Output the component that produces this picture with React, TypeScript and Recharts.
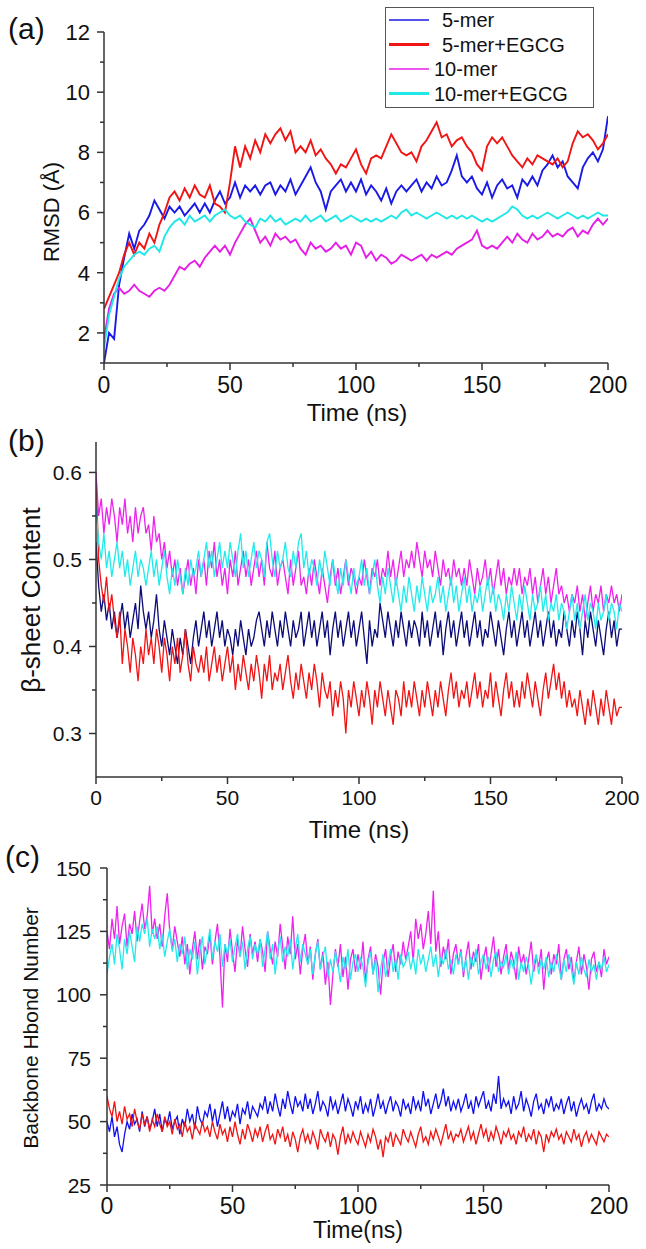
import React from 'react';
import { LineChart, Line, XAxis, YAxis, Legend } from 'recharts';

const FONT = '"Liberation Sans", Arial, Helvetica, sans-serif';
const AXIS = '#333333';
const TXT = '#111111';

const seriesNames = ['5-mer', '5-mer+EGCG', '10-mer', '10-mer+EGCG'];
const colorsA = ['#1a1ae6', '#f01414', '#e61ee6', '#1ee8e8'];
const colorsB = ['#0c0c78', '#f01414', '#ee22ee', '#22eaea'];
const colorsC = ['#1010ee', '#f01414', '#ee22ee', '#22eaea'];
const legendLineWidths = [1.5, 3, 1.5, 3.2];

const timeTicks = [0, 25, 50, 75, 100, 125, 150, 175, 200];
const rmsdTicks = [1, 2, 3, 4, 5, 6, 7, 8, 9, 10, 11, 12];
const sheetTicks = [0.3, 0.35, 0.4, 0.45, 0.5, 0.55, 0.6];
const hbondTicks = [25, 37.5, 50, 62.5, 75, 87.5, 100, 112.5, 125, 137.5, 150];

// (a) RMSD, sampled every 2 ns
const rmsd5 = [
  1.0, 2.0, 1.8, 3.6, 4.5, 5.3, 4.8, 5.4, 5.6, 5.9,
  6.4, 6.1, 5.8, 6.2, 6.0, 6.2, 5.9, 6.1, 6.3, 6.0,
  6.3, 6.0, 6.4, 6.7, 6.3, 6.5, 7.0, 6.5, 6.9, 6.7,
  6.9, 6.6, 6.9, 7.0, 6.6, 6.9, 6.7, 7.1, 6.6, 6.9,
  7.2, 7.5, 7.0, 6.7, 6.1, 6.7, 6.9, 7.1, 6.7, 7.0,
  6.7, 7.1, 6.6, 6.9, 6.7, 6.4, 6.8, 6.3, 6.7, 6.9,
  6.7, 6.9, 7.1, 6.7, 7.0, 6.8, 7.2, 6.9, 7.0, 7.4,
  7.9, 7.2, 7.0, 7.2, 6.8, 6.6, 7.0, 6.5, 6.9, 7.1,
  6.8, 6.9, 6.5, 7.1, 6.9, 7.2, 6.9, 7.4, 7.6, 7.9,
  7.5, 7.7, 7.2, 7.0, 6.8, 7.5, 7.8, 8.0, 7.7, 8.1,
  9.2,
];
const rmsd5E = [
  2.8, 3.2, 3.6, 4.0, 4.6, 5.0, 4.6, 5.0, 4.8, 5.3,
  5.0, 5.6, 6.0, 6.5, 6.7, 6.4, 6.8, 6.5, 6.9, 6.6,
  6.5, 6.9, 6.3, 6.2, 6.0, 7.0, 8.2, 7.5, 8.2, 7.8,
  8.4, 8.0, 8.6, 8.3, 8.6, 8.8, 8.4, 8.7, 8.0, 8.2,
  8.0, 8.4, 7.9, 8.1, 7.8, 7.6, 7.3, 7.6, 7.5, 7.8,
  8.1, 7.6, 7.3, 7.8, 7.9, 7.8, 8.2, 8.6, 8.3, 8.0,
  7.9, 8.0, 7.7, 8.2, 8.4, 8.7, 9.0, 8.5, 8.6, 8.2,
  8.4, 8.5, 8.2, 8.0, 7.6, 7.4, 8.2, 8.5, 8.3, 8.5,
  8.2, 7.9, 7.7, 7.5, 7.8, 7.6, 7.9, 7.8, 7.7, 7.6,
  7.8, 7.5, 7.7, 8.3, 8.7, 8.5, 8.6, 8.4, 8.1, 8.3,
  8.6,
];
const rmsd10 = [
  1.8, 2.8, 3.3, 3.5, 3.3, 3.4, 3.6, 3.4, 3.3, 3.2,
  3.4, 3.5, 3.4, 3.6, 3.9, 4.2, 4.1, 4.3, 4.4, 4.2,
  4.5, 4.7, 4.9, 4.7, 4.9, 4.6, 5.0, 5.3, 5.6, 5.8,
  5.4, 5.0, 5.2, 4.9, 5.3, 5.1, 5.2, 5.0, 5.1, 4.8,
  4.6, 5.0, 4.8, 4.9, 4.7, 4.8, 5.0, 4.8, 4.9, 4.6,
  5.0, 4.9, 4.5, 4.7, 4.4, 4.6, 4.5, 4.3, 4.4, 4.6,
  4.5, 4.4, 4.5, 4.6, 4.4, 4.6, 4.5, 4.6, 4.7, 4.6,
  4.8, 4.9, 5.0, 5.1, 5.4, 4.9, 4.8, 4.9, 4.8, 5.0,
  5.2, 5.0, 5.3, 5.1, 5.0, 5.3, 5.1, 5.2, 5.4, 5.2,
  5.3, 5.2, 5.4, 5.5, 5.2, 5.4, 5.3, 5.6, 5.8, 5.6,
  5.8,
];
const rmsd10E = [
  1.5, 2.6, 3.2, 3.8, 4.2, 4.4, 4.6, 4.7, 4.6, 4.8,
  4.9, 4.7, 5.2, 5.5, 5.7, 5.8, 5.6, 5.9, 5.7, 5.8,
  5.9, 5.7, 5.9, 6.0, 6.1, 5.9, 5.8, 5.9, 5.7, 5.6,
  5.5, 5.8, 5.7, 5.9, 5.7, 5.8, 5.6, 5.7, 5.8, 5.7,
  5.9, 5.7, 5.8, 5.9, 5.7, 5.8, 5.9, 5.7, 5.8, 5.9,
  5.8, 5.7, 5.8, 5.7, 5.8, 5.7, 5.8, 5.9, 5.8, 6.0,
  6.1, 5.9, 6.0, 5.9, 5.8, 5.9, 6.0, 5.9, 5.8, 5.9,
  5.8, 5.9, 5.8, 5.9, 5.8, 5.7, 5.8, 5.7, 5.8, 5.9,
  6.0, 6.2, 6.1, 5.9, 5.8, 5.9, 5.8, 5.9, 6.0, 5.9,
  5.8, 5.9, 6.0, 5.9, 5.8, 5.9, 5.8, 5.9, 6.0, 5.9,
  5.9,
];

// (b) beta-sheet content, sampled every 1 ns
const sheet5 = [
  .52,.47,.44,.46,.43,.45,.42,.44,.41,.43,.45,.42,.44,.41,.43,.45,.42,.47,.44,.42,
  .44,.41,.43,.46,.42,.40,.43,.41,.39,.42,.40,.38,.41,.39,.42,.40,.38,.41,.43,.40,
  .42,.44,.41,.43,.40,.42,.44,.41,.43,.40,.42,.41,.39,.42,.40,.43,.41,.39,.42,.40,
  .41,.43,.44,.42,.40,.43,.41,.44,.42,.40,.43,.41,.44,.42,.40,.43,.41,.42,.44,.40,
  .42,.44,.41,.43,.40,.42,.44,.41,.43,.39,.42,.44,.41,.43,.40,.42,.44,.41,.43,.40,
  .42,.44,.41,.38,.43,.40,.42,.41,.45,.43,.41,.44,.42,.40,.43,.41,.44,.42,.40,.43,
  .41,.43,.42,.40,.44,.41,.43,.40,.42,.44,.41,.43,.39,.42,.44,.41,.43,.40,.42,.44,
  .41,.43,.40,.42,.44,.41,.43,.40,.42,.41,.44,.42,.40,.43,.41,.39,.42,.44,.41,.43,
  .40,.42,.44,.41,.43,.40,.42,.44,.41,.43,.40,.42,.44,.41,.43,.40,.42,.41,.44,.42,
  .40,.43,.41,.44,.42,.39,.43,.41,.44,.42,.40,.43,.41,.39,.42,.44,.41,.43,.40,.42,
  .42,
];
const sheet5E = [
  .60,.50,.47,.45,.48,.44,.46,.43,.41,.44,.38,.42,.40,.37,.41,.39,.36,.40,.38,.42,
  .39,.41,.38,.42,.40,.37,.41,.39,.36,.40,.38,.41,.37,.39,.42,.38,.36,.40,.38,.37,
  .39,.37,.40,.36,.38,.40,.37,.39,.36,.38,.40,.37,.39,.35,.38,.36,.39,.37,.35,.38,
  .36,.39,.37,.34,.38,.36,.39,.35,.37,.36,.38,.35,.37,.39,.36,.34,.37,.35,.38,.36,
  .34,.37,.35,.38,.36,.33,.37,.35,.34,.36,.32,.35,.33,.36,.34,.30,.35,.33,.36,.34,
  .32,.35,.33,.36,.34,.31,.35,.33,.36,.34,.32,.35,.33,.31,.35,.34,.32,.36,.33,.35,
  .33,.36,.34,.32,.35,.33,.36,.34,.32,.35,.33,.36,.34,.32,.35,.37,.34,.36,.33,.35,
  .34,.36,.33,.35,.37,.34,.36,.33,.35,.34,.37,.33,.36,.34,.32,.35,.37,.34,.36,.33,
  .35,.33,.36,.34,.37,.35,.33,.36,.34,.32,.35,.37,.34,.36,.38,.35,.37,.34,.36,.33,
  .35,.33,.34,.32,.35,.33,.31,.34,.32,.35,.33,.31,.34,.32,.35,.33,.31,.34,.32,.33,
  .33,
];
const sheet10 = [
  .60,.55,.57,.53,.56,.54,.57,.55,.52,.56,.54,.57,.53,.55,.52,.56,.53,.55,.56,.53,
  .54,.51,.55,.52,.53,.50,.52,.49,.51,.48,.50,.47,.49,.46,.48,.50,.47,.49,.46,.50,
  .48,.50,.47,.51,.49,.52,.48,.50,.47,.49,.46,.50,.48,.51,.47,.49,.51,.48,.50,.47,
  .49,.51,.48,.50,.47,.52,.49,.48,.51,.47,.49,.50,.48,.46,.50,.47,.49,.51,.47,.48,
  .46,.49,.47,.50,.48,.46,.49,.47,.45,.48,.50,.47,.49,.46,.48,.50,.47,.49,.48,.46,
  .48,.47,.50,.48,.46,.49,.48,.50,.47,.49,.48,.51,.48,.50,.47,.49,.51,.48,.50,.49,
  .51,.49,.52,.50,.48,.51,.49,.50,.48,.51,.49,.47,.50,.48,.49,.47,.50,.48,.49,.47,
  .49,.47,.50,.48,.46,.49,.47,.48,.50,.47,.49,.46,.48,.50,.47,.49,.46,.48,.47,.49,
  .47,.49,.46,.48,.47,.49,.46,.48,.45,.47,.49,.46,.48,.45,.47,.49,.46,.47,.45,.46,
  .44,.46,.45,.47,.44,.46,.43,.45,.47,.44,.46,.45,.47,.44,.46,.45,.47,.45,.46,.44,
  .46,
];
const sheet10E = [
  .56,.52,.50,.53,.49,.51,.48,.50,.52,.49,.51,.48,.50,.47,.49,.51,.48,.50,.49,.47,
  .49,.51,.48,.50,.47,.49,.51,.48,.46,.49,.47,.50,.48,.46,.49,.47,.50,.48,.49,.51,
  .48,.50,.52,.49,.51,.48,.50,.52,.49,.51,.49,.52,.50,.48,.51,.53,.49,.51,.48,.50,
  .52,.49,.51,.50,.48,.52,.53,.50,.48,.51,.49,.50,.52,.49,.48,.51,.49,.52,.53,.49,
  .51,.48,.50,.49,.47,.50,.48,.51,.49,.47,.50,.48,.46,.49,.47,.50,.48,.46,.49,.47,
  .48,.50,.47,.49,.46,.48,.50,.47,.45,.48,.46,.49,.47,.45,.48,.46,.44,.47,.45,.48,
  .46,.44,.47,.45,.48,.46,.44,.47,.45,.46,.48,.45,.47,.44,.46,.48,.45,.47,.44,.46,
  .48,.45,.47,.44,.46,.45,.47,.44,.46,.48,.45,.47,.44,.46,.45,.43,.46,.44,.47,.45,
  .43,.46,.44,.47,.45,.43,.46,.44,.45,.47,.44,.46,.43,.45,.44,.46,.43,.45,.44,.42,
  .44,.46,.43,.45,.42,.44,.46,.43,.45,.44,.42,.45,.43,.44,.46,.43,.45,.44,.42,.45,
  .44,
];

// (c) backbone H-bond number, sampled every 1 ns
const hbond5 = [
  50,46,52,44,48,41,38,45,50,47,53,49,51,46,54,48,52,47,50,55,
  48,53,46,51,49,54,47,50,52,45,51,48,55,50,53,47,56,51,49,54,
  52,57,50,55,48,53,58,51,56,50,54,52,57,49,55,53,58,51,56,54,
  52,57,55,60,53,58,54,61,56,52,59,55,62,57,53,60,56,58,54,61,
  55,59,53,57,62,54,58,56,52,60,55,58,53,57,61,54,59,56,52,58,
  55,60,53,57,54,59,52,56,61,55,58,53,57,60,54,58,56,52,59,55,
  57,53,60,55,58,54,62,56,59,53,57,61,55,58,63,56,60,54,58,55,
  59,54,57,61,55,58,53,60,56,59,62,55,58,54,61,57,68,55,59,56,
  58,53,60,55,57,62,54,59,56,52,58,61,55,57,53,59,56,60,54,57,
  55,59,53,57,60,54,58,52,56,59,55,57,53,58,61,54,57,55,59,56,
  55,
];
const hbond5E = [
  60,55,52,58,50,54,49,56,51,53,48,55,50,47,53,49,52,46,51,48,
  53,49,46,52,48,50,45,51,47,49,44,50,46,48,43,49,47,45,50,46,
  48,44,50,46,43,49,45,47,42,48,44,50,45,41,47,43,49,46,42,47,
  44,48,42,46,49,43,45,41,47,44,48,42,45,40,46,43,38,44,47,42,
  45,41,46,43,39,47,44,42,46,40,45,43,37,44,48,41,45,42,46,43,
  41,46,43,40,45,42,47,44,39,43,36,44,42,46,40,45,43,41,47,44,
  42,46,43,40,45,48,42,44,41,46,43,47,44,41,45,49,43,46,42,45,
  44,47,42,45,48,43,46,41,45,49,44,47,42,46,43,48,45,41,46,44,
  47,43,45,41,46,44,48,42,45,43,47,41,46,44,38,45,42,46,44,47,
  43,45,41,46,44,42,47,43,45,40,44,46,42,45,43,41,46,44,42,45,
  44,
];
const hbond10 = [
  125,118,130,122,135,120,127,132,119,128,124,133,121,129,136,126,131,143,124,130,
  122,128,119,131,140,125,118,127,121,115,123,112,120,108,118,125,114,122,110,119,
  116,124,112,121,128,115,95,120,113,126,117,109,122,115,127,118,111,124,116,121,
  113,122,117,109,125,118,112,121,115,128,119,110,123,116,131,114,120,108,118,124,
  112,119,106,116,122,110,117,104,113,96,108,118,111,120,107,115,102,114,118,109,
  116,110,121,105,114,119,108,116,111,100,113,118,107,115,120,109,117,112,121,114,
  119,125,113,130,122,128,118,124,133,120,141,117,125,111,119,114,122,108,116,120,
  112,118,107,115,121,110,117,113,120,106,114,119,109,116,123,111,118,108,115,120,
  110,117,113,106,119,112,116,108,114,121,109,115,111,118,102,113,117,108,116,112,
  120,106,114,118,110,115,105,113,119,108,116,111,102,114,117,109,113,107,118,112,
  115,
];
const hbond10E = [
  108,115,120,112,124,118,110,122,116,125,119,113,127,121,128,124,130,119,126,122,
  127,118,124,115,121,126,117,122,113,120,116,123,110,118,114,121,108,117,123,112,
  119,126,114,121,117,124,111,120,116,122,113,119,124,115,121,110,118,123,114,120,
  116,122,111,118,125,114,120,108,117,123,113,119,115,122,110,118,124,113,120,116,
  112,118,108,116,121,110,115,119,107,114,109,117,112,105,115,110,118,106,113,116,
  109,115,111,103,113,117,108,114,101,110,116,107,112,118,109,114,106,116,111,113,
  117,110,115,108,118,112,116,109,114,119,111,116,107,115,112,118,110,114,108,116,
  112,117,109,114,106,115,111,118,108,113,116,110,115,107,114,117,109,113,111,116,
  108,114,110,117,106,113,109,115,111,104,112,116,108,114,110,115,107,113,109,116,
  111,106,114,109,116,110,104,113,108,115,110,107,114,109,112,106,113,110,115,109,
  112,
];

function buildRows(step: number, series: number[][]) {
  const n = Math.max(...series.map((s) => s.length));
  const rows: any[] = [];
  for (let i = 0; i < n; i++) {
    const row: any = { t: i * step };
    series.forEach((s, k) => {
      row['s' + k] = s[i];
    });
    rows.push(row);
  }
  return rows;
}

const dataA = buildRows(2, [rmsd5, rmsd5E, rmsd10, rmsd10E]);
const dataB = buildRows(1, [sheet5, sheet5E, sheet10, sheet10E]);
const dataC = buildRows(1, [hbond5, hbond5E, hbond10, hbond10E]);

function makeXTick(fs: number, dy: number) {
  return (props: any) => {
    const { x, y, payload } = props;
    const v = payload.value;
    const major = v % 50 === 0;
    return (
      <g>
        <line x1={x} x2={x} y1={y} y2={y + (major ? 7 : 4)} stroke={AXIS} strokeWidth={1.5} />
        {major && (
          <text x={x} y={y + dy} textAnchor="middle" fontSize={fs} fontFamily={FONT} fill={TXT}>
            {v}
          </text>
        )}
      </g>
    );
  };
}

function makeYTick(fs: number, gap: number, isMajor: (v: number) => boolean, fmt: (v: number) => string) {
  return (props: any) => {
    const { x, y, payload } = props;
    const v = payload.value;
    const major = isMajor(v);
    return (
      <g>
        <line x1={x} x2={x - (major ? 7 : 4)} y1={y} y2={y} stroke={AXIS} strokeWidth={1.5} />
        {major && (
          <text x={x - gap} y={y} dy="0.36em" textAnchor="end" fontSize={fs} fontFamily={FONT} fill={TXT}>
            {fmt(v)}
          </text>
        )}
      </g>
    );
  };
}

const LegendBox = (props: any) => {
  const payload = [...(props.payload || [])].sort(
    (a: any, b: any) => seriesNames.indexOf(a.value) - seriesNames.indexOf(b.value)
  );
  return (
    <svg width={206} height={98} style={{ display: 'block' }}>
      {payload.map((entry: any, i: number) => {
        const cy = 12 + i * 24.5;
        const tx = i < 2 ? 56 : 48;
        return (
          <g key={i}>
            <line x1={3} x2={43} y1={cy} y2={cy} stroke={entry.color} strokeWidth={legendLineWidths[i]} />
            <text x={tx} y={cy} dy="0.36em" fontSize={20} fontFamily={FONT} fill={TXT}>
              {entry.value}
            </text>
          </g>
        );
      })}
    </svg>
  );
};

const axisLineStyle = { stroke: AXIS, strokeWidth: 1.5 };

function Panel(props: {
  top: number;
  height: number;
  margin: any;
  data: any[];
  colors: string[];
  sw: number;
  yDomain: [number, number];
  yTicks: number[];
  yTick: any;
  xTick: any;
  legend?: boolean;
}) {
  const { top, height, margin, data, colors, sw, yDomain, yTicks, yTick, xTick, legend } = props;
  return (
    <div style={{ position: 'absolute', left: 0, top, width: 646, height }}>
      <LineChart width={646} height={height} data={data} margin={margin}>
        <XAxis
          type="number"
          dataKey="t"
          domain={[0, 200]}
          ticks={timeTicks}
          interval={0}
          height={30}
          tickSize={0}
          tickMargin={0}
          tickLine={false}
          axisLine={axisLineStyle}
          tick={xTick}
          allowDataOverflow
        />
        <YAxis
          type="number"
          domain={yDomain}
          ticks={yTicks}
          interval={0}
          width={60}
          tickSize={0}
          tickMargin={0}
          tickLine={false}
          axisLine={axisLineStyle}
          tick={yTick}
          allowDataOverflow
        />
        {seriesNames.map((name, k) => (
          <Line
            key={name}
            type="linear"
            dataKey={'s' + k}
            name={name}
            stroke={colors[k]}
            strokeWidth={sw}
            dot={false}
            activeDot={false}
            isAnimationActive={false}
          />
        ))}
        {legend && (
          <Legend
            layout="vertical"
            align="center"
            verticalAlign="middle"
            content={LegendBox}
            wrapperStyle={{
              position: 'absolute',
              left: 385,
              top: 7,
              width: 209,
              height: 101,
              border: '1.5px solid #555',
              boxSizing: 'border-box',
              background: '#fff',
            }}
          />
        )}
      </LineChart>
    </div>
  );
}

export default function App() {
  const t = { fontFamily: FONT, fill: TXT };
  return (
    <div style={{ position: 'absolute', left: 0, top: 0, width: 646, height: 1249, background: '#fff', overflow: 'hidden' }}>
      <Panel
        top={0}
        height={425}
        margin={{ top: 32, right: 38, bottom: 32, left: 44 }}
        data={dataA}
        colors={colorsA}
        sw={1.9}
        yDomain={[1, 12]}
        yTicks={rmsdTicks}
        yTick={makeYTick(22, 14, (v) => v % 2 === 0, (v) => String(v))}
        xTick={makeXTick(23, 30)}
        legend
      />
      <Panel
        top={425}
        height={425}
        margin={{ top: 17, right: 24, bottom: 43, left: 36 }}
        data={dataB}
        colors={colorsB}
        sw={1.3}
        yDomain={[0.25, 0.635]}
        yTicks={sheetTicks}
        yTick={makeYTick(21, 14, (v) => Math.abs(v * 10 - Math.round(v * 10)) < 1e-6, (v) => v.toFixed(1))}
        xTick={makeXTick(21, 28)}
      />
      <Panel
        top={850}
        height={399}
        margin={{ top: 18, right: 37, bottom: 34, left: 47 }}
        data={dataC}
        colors={colorsC}
        sw={1.3}
        yDomain={[25, 150]}
        yTicks={hbondTicks}
        yTick={makeYTick(21, 16, (v) => v % 25 === 0, (v) => String(v))}
        xTick={makeXTick(23, 29)}
      />
      <svg
        width={646}
        height={1249}
        style={{ position: 'absolute', left: 0, top: 0, pointerEvents: 'none' }}
      >
        <text x={8} y={39} fontSize={30} {...t}>(a)</text>
        <text x={8} y={451} fontSize={30} {...t}>(b)</text>
        <text x={5} y={867} fontSize={30} {...t}>(c)</text>
        <text transform="translate(51,212) rotate(-90)" textAnchor="middle" dy="0.36em" fontSize={22} {...t}>
          RMSD (Å)
        </text>
        <text x={357} y={421} textAnchor="middle" fontSize={24} {...t}>Time (ns)</text>
        <text transform="translate(31,600) rotate(-90)" textAnchor="middle" dy="0.36em" fontSize={26} {...t}>
          β-sheet Content
        </text>
        <text x={359} y={838} textAnchor="middle" fontSize={24} {...t}>Time (ns)</text>
        <text transform="translate(30,1028) rotate(-90)" textAnchor="middle" dy="0.36em" fontSize={21} {...t}>
          Backbone Hbond Number
        </text>
        <text x={358} y={1238} textAnchor="middle" fontSize={23} {...t}>Time(ns)</text>
      </svg>
    </div>
  );
}
